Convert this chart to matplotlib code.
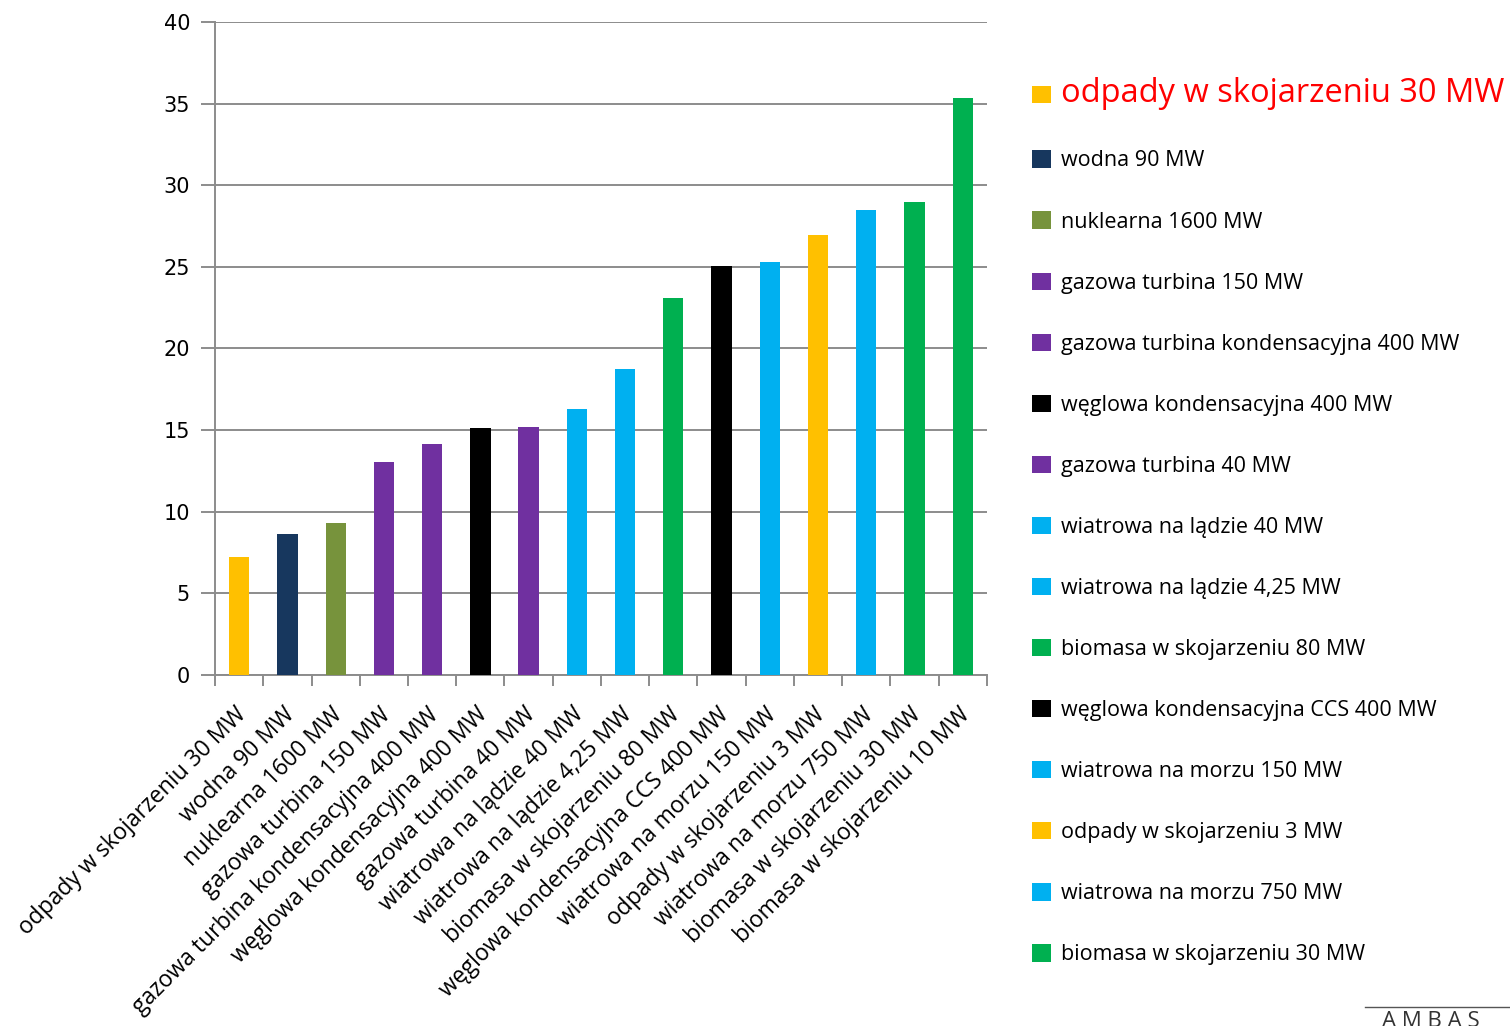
import matplotlib
matplotlib.use('Agg')
import matplotlib.pyplot as plt

categories = ['odpady w skojarzeniu 30 MW', 'wodna 90 MW', 'nuklearna 1600 MW',
              'gazowa turbina 150 MW', 'gazowa turbina kondensacyjna 400 MW',
              'węglowa kondensacyjna 400 MW', 'gazowa turbina 40 MW',
              'wiatrowa na lądzie 40 MW', 'wiatrowa na lądzie 4,25 MW',
              'biomasa w skojarzeniu 80 MW', 'węglowa kondensacyjna CCS 400 MW',
              'wiatrowa na morzu 150 MW', 'odpady w skojarzeniu 3 MW',
              'wiatrowa na morzu 750 MW', 'biomasa w skojarzeniu 30 MW',
              'biomasa w skojarzeniu 10 MW']
values = [7.23, 8.64, 9.31, 13.05, 14.15, 15.13, 15.19, 16.29, 18.74,
          23.09, 25.05, 25.30, 26.95, 28.48, 28.97, 35.34]
colors = ['#FFC000', '#17375E', '#77933C', '#7030A0', '#7030A0', '#000000',
          '#7030A0', '#00B0F0', '#00B0F0', '#00B050', '#000000', '#00B0F0',
          '#FFC000', '#00B0F0', '#00B050', '#00B050']
yticks = [0, 5, 10, 15, 20, 25, 30, 35, 40]

font = 'Open Sans'
grey = '#8C8C8C'

fig = plt.figure(figsize=(15.1, 10.26), dpi=100)
ax = fig.add_axes([0.1424, 0.3421, 0.6536 - 0.1424, 0.9786 - 0.3421])

x = range(len(categories))
bars = ax.bar(x, values, width=0.42, color=colors, zorder=3)

ax.set_xlim(-0.5, len(categories) - 0.5)
ax.set_ylim(0, 40)
ax.set_yticks(yticks)
ax.yaxis.grid(True, color=grey, linewidth=1.4, zorder=0)
for s in ['top', 'right']:
    ax.spines[s].set_visible(False)
for s in ['left', 'bottom']:
    ax.spines[s].set_color(grey)
    ax.spines[s].set_linewidth(1.4)
ax.tick_params(axis='y', length=10, width=1.4, color=grey, labelsize=15, pad=8)
ax.tick_params(axis='x', length=8, width=1.4, color=grey)

# x ticks sit between bars, labels sit under bar centres
ax.set_xticks([i - 0.5 for i in range(len(categories) + 1)])
ax.set_xticklabels([])
for i, c in enumerate(categories):
    ax.text(i - 0.1, -1.7, c, rotation=45, ha='right', va='top',
            rotation_mode='anchor', fontsize=16.5, family=font)

leg = ax.legend(bars.patches[:15], categories[:15], loc='upper left',
                bbox_to_anchor=(0.678, 0.933), bbox_transform=fig.transFigure,
                frameon=False, prop={'family': font, 'size': 15.5},
                handlelength=0.85, handleheight=0.85, handletextpad=0.5,
                labelspacing=1.86, borderaxespad=0)
t0 = leg.get_texts()[0]
t0.set_color('red')
t0.set_fontsize(23.5)

# logo fragment at the bottom right
fig.add_artist(plt.Line2D([0.904, 1.0], [0.019, 0.019], transform=fig.transFigure,
                          color='#555555', linewidth=1))
fig.text(0.915, -0.006, 'A M B A S', fontsize=16, family=font, color='#333333',
         ha='left', va='bottom')

plt.savefig('out.png', dpi=100)
